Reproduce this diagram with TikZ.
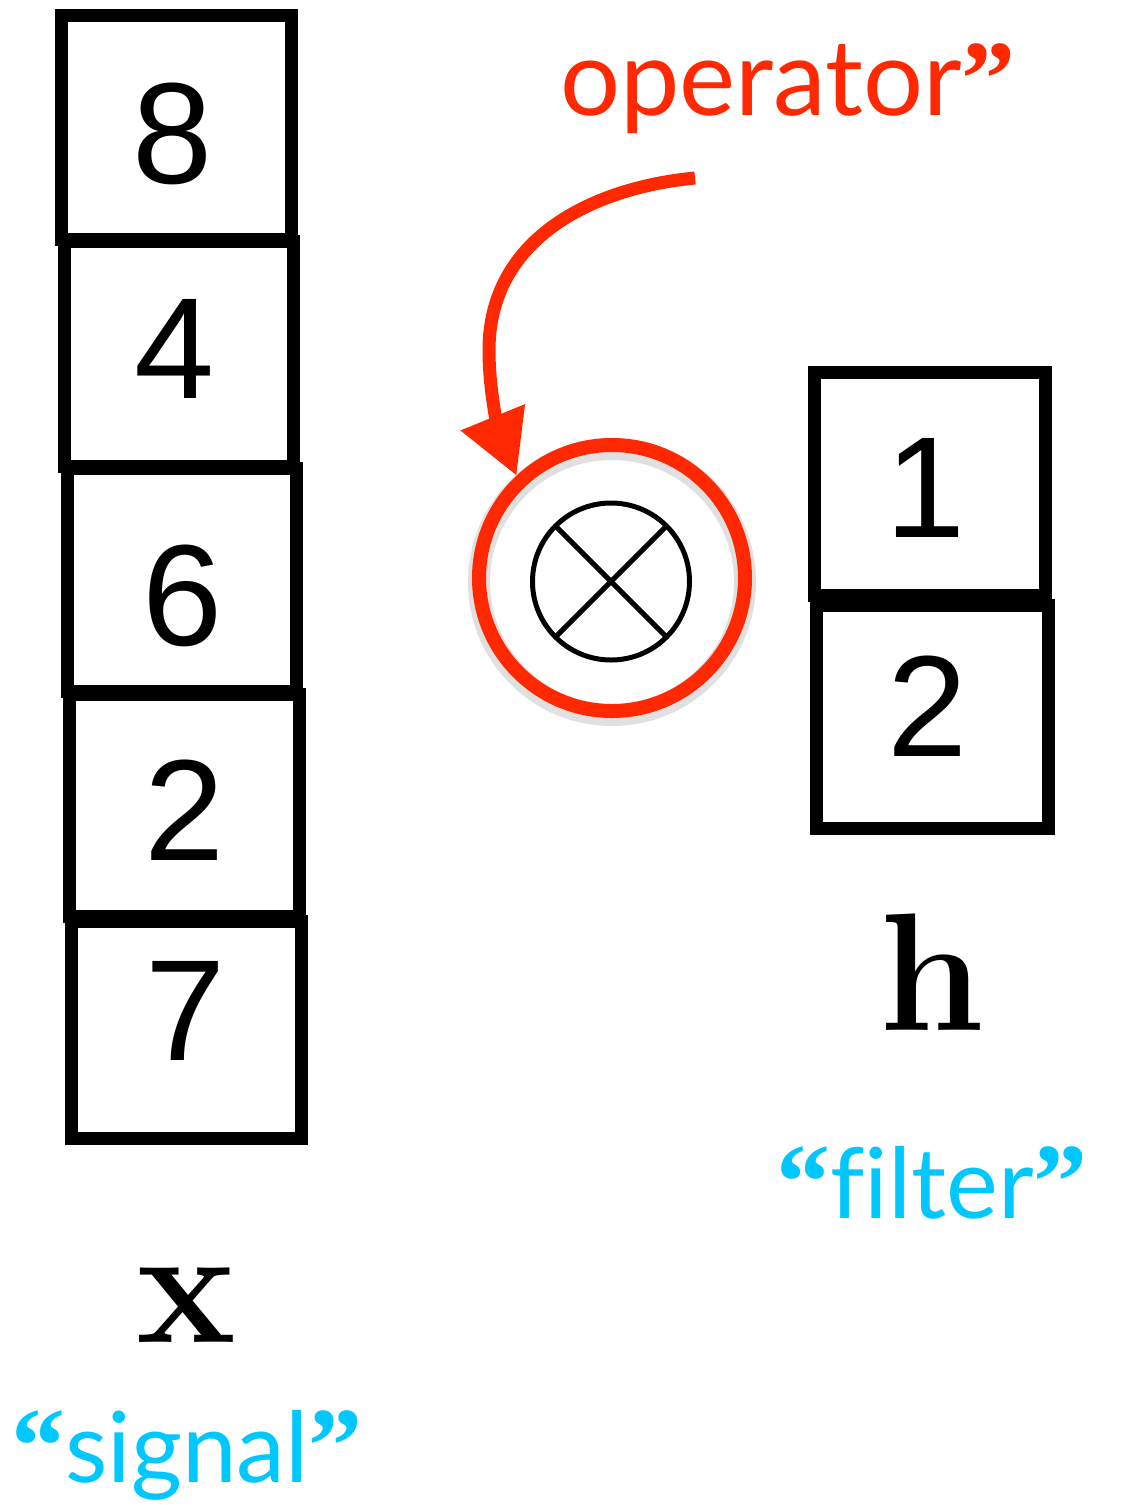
\documentclass[tikz,border=0pt]{standalone}
\usepackage{fontspec}
\newfontfamily\lblfont{Lato}[Ligatures={NoCommon}]
\newfontfamily\qfont{Liberation Serif}
\newfontfamily\digfont{Liberation Sans}
\usetikzlibrary{arrows.meta}
\definecolor{opred}{RGB}{255,40,0}
\definecolor{sigcyan}{RGB}{0,200,255}
\newcommand{\oq}{{\qfont\bfseries\fontsize{108}{108}\selectfont “}}
\newcommand{\cq}{{\qfont\bfseries\fontsize{108}{108}\selectfont ”}}
\tikzset{
  cell/.style 2 args={draw=black,line width=13pt,rectangle,inner sep=0pt,outer sep=0pt,
    minimum width=#1,minimum height=#2},
  digit/.style={anchor=base,inner sep=0pt,font=\digfont\fontsize{144}{144}\selectfont},
  varname/.style={anchor=base,inner sep=0pt,font=\fontsize{168}{168}\selectfont\bfseries},
  lbl/.style={inner sep=0pt,font=\lblfont\fontsize{#1}{#1}\selectfont},
  opring/.style={circle,draw=opred,line width=14pt,minimum size=266pt,inner sep=0pt},
  otimes/.style={circle,draw=black,line width=5pt,minimum size=157pt,inner sep=0pt,outer sep=0pt},
  redarrow/.style={draw=opred,line width=13pt,-{Triangle[length=63pt,width=66pt]}}
}
\begin{document}
\begin{tikzpicture}[x=1pt,y=-1pt]
\useasboundingbox[fill=white] (0,0) rectangle (1121,1505);

% signal x
\node[cell={229.5pt}{224pt}] (b1) at (176.25,127) {};
\node[cell={229.5pt}{225pt}] (b2) at (178.75,353.5) {};
\node[cell={229pt}{223pt}] (b3) at (181.5,579.5) {};
\node[cell={230pt}{222pt}] (b4) at (184,805) {};
\node[cell={230pt}{217pt}] (b5) at (186.5,1029.5) {};
\node[digit] (d1) at (173,183) {8};
\node[digit] (d2) at (175,398) {4};
\node[digit] (d3) at (183,645) {6};
\node[digit] (d4) at (185,860) {2};
\node[digit] (d5) at (186,1060) {7};

% filter h
\node[cell={231.5pt}{222.5pt}] (r1) at (929.75,483.75) {};
\node[cell={232pt}{223.5pt}] (r2) at (932.5,716.75) {};
\node[digit] (e1) at (925.5,537) {1};
\node[digit] (e2) at (927.5,756) {2};

% variable names
\node[varname] (vx) at (186,1342) {x};
\node[varname] (vh) at (932,1030) {h};

% labels
\node[lbl=106,text=opred,anchor=base west] (optxt) at (560,115) {operator\cq};
\node[lbl=98,text=sigcyan,anchor=base] (filt) at (932,1218) {\oq f\kern0pt ilter\cq};
\node[lbl=98,text=sigcyan,anchor=base] (sig) at (187,1482) {\oq signal\cq};

% operator
\draw[black,opacity=0.12,line width=22pt] (612,582) circle (133);
\node[opring] (op) at (612,578) {};
\node[otimes] (ot) at (611,581.5) {};
\draw[black,line width=5pt] (ot.45) -- (ot.225);
\draw[black,line width=5pt] (ot.135) -- (ot.315);

% arrow
\coordinate (astart) at (695,178);
\coordinate (amid) at (489,350);
\draw[redarrow] (astart) .. controls (590,188) and (489,240) .. (amid)
  .. controls (489,400) and (502,440) .. (op.133);
\end{tikzpicture}
\end{document}
